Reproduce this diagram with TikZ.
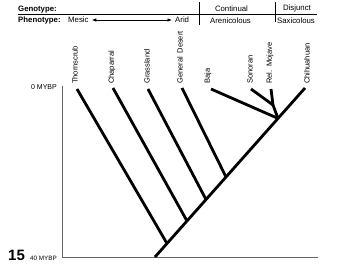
\documentclass[tikz,border=0pt]{standalone}
\usepackage{fontspec}
\setmainfont{Liberation Sans}
\usetikzlibrary{arrows.meta}
\begin{document}
\begin{tikzpicture}[x=1pt,y=-1pt,
  branch/.style={line width=2.8pt, line cap=butt, line join=miter},
  lbl/.style={rotate=90, anchor=west, inner sep=0pt, font=\fontsize{7.5}{8}\selectfont},
  hdr/.style={inner sep=0pt, font=\fontsize{7.8}{9}\selectfont},
  hdrb/.style={inner sep=0pt, font=\fontsize{7.8}{9}\selectfont\bfseries},
  rule/.style={draw=black, line width=0.8pt},
  axisline/.style={draw=black!60, line width=0.9pt}]
\useasboundingbox (0,0) rectangle (340,280);
% header
\node[hdrb, anchor=west] (geno) at (18,9.5) {Genotype:};
\node[hdrb, anchor=west] (pheno) at (18,20) {Phenotype:};
\node[hdr, anchor=west] (mesic) at (68,20) {Mesic};
\node[hdr, anchor=west] (arid) at (175,20) {Arid};
\draw[line width=0.7pt, {Latex[length=4.5pt,width=3.5pt]}-{Latex[length=4.5pt,width=3.5pt]}, shorten <=3pt, shorten >=3pt] (mesic.east) -- (arid.west);
\node[hdr] (cont) at (231.5,8.5) {Continual};
\node[hdr] (aren) at (230.5,20.5) {Arenicolous};
\node[hdr] (disj) at (297,8.5) {Disjunct};
\node[hdr] (saxi) at (296,20.5) {Saxicolous};
\coordinate (ulL) at (18,14);
\coordinate (ulR) at (317,14);
\draw[rule] (ulL) -- (ulR);
\coordinate (s1t) at (199,2);
\coordinate (s1b) at (199,25);
\coordinate (s2t) at (275,2);
\coordinate (s2b) at (275,22);
\draw[rule] (s1t) -- (s1b);
\draw[rule] (s2t) -- (s2b);
% axes
\coordinate (axT) at (62,86);
\coordinate (axO) at (62,257);
\coordinate (axR) at (318,257);
\draw[axisline] (axT) -- (axO) -- (axR);
\node[anchor=east, inner sep=0pt, font=\fontsize{7}{8}\selectfont] (zero) at (57,87) {0 MYBP};
\node[anchor=west, inner sep=0pt, font=\fontsize{15}{16}\selectfont\bfseries] (fifteen) at (8,255) {15};
\node[anchor=west, inner sep=0pt, font=\fontsize{6.3}{7}\selectfont] (forty) at (30,258) {40 MYBP};
% tree coordinates
\coordinate (root) at (155,257);
\coordinate (tCh) at (305,88);
\coordinate (jT) at (167,243.5);
\coordinate (jC) at (187,221);
\coordinate (jG) at (206,199.5);
\coordinate (jD) at (226,177);
\coordinate (jB) at (278,118.4);
\coordinate (jSM) at (273,105);
\coordinate (tT) at (77,89);
\coordinate (tC) at (113,88);
\coordinate (tG) at (148,89);
\coordinate (tD) at (182,88);
\coordinate (tB) at (211,89);
\coordinate (tS) at (251,89);
\coordinate (tM) at (271,89);
\draw[branch] (root) -- (tCh);
\draw[branch] (tT) -- (jT);
\draw[branch] (tC) -- (jC);
\draw[branch] (tG) -- (jG);
\draw[branch] (tD) -- (jD);
\draw[branch] (tB) -- (jB);
\draw[branch] (jSM) -- (jB);
\draw[branch] (tS) -- (jSM);
\draw[branch] (tM) -- (jSM);
% labels
\node[lbl] (lT) at (75,84) {Thornscrub};
\node[lbl] (lC) at (112,84) {Chaparral};
\node[lbl] (lG) at (147,84) {Grassland};
\node[lbl] (lD) at (180,84) {General\hspace{0.5em}Desert};
\node[lbl] (lB) at (208,84) {Baja};
\node[lbl] (lS) at (250,84) {Sonoran};
\node[lbl] (lM) at (270,84) {Rel.\hspace{0.5em}Mojave};
\node[lbl] (lCh) at (307,84) {Chihuahuan};
\end{tikzpicture}
\end{document}
